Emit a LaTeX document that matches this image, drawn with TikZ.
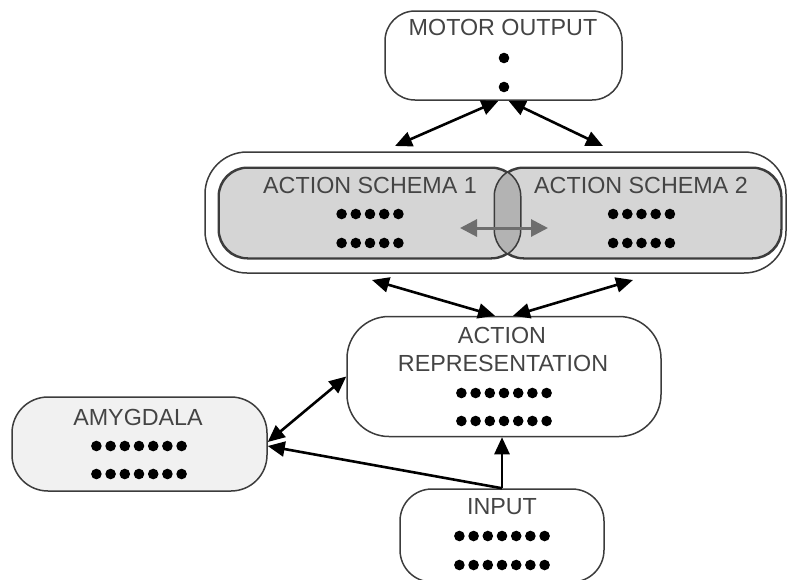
\documentclass[tikz,border=0pt]{standalone}
\usepackage{fontspec}
\setmainfont{Liberation Sans}
\usetikzlibrary{arrows.meta,positioning}
\definecolor{boxline}{HTML}{3C3C3C}
\definecolor{labelgray}{HTML}{444444}
\definecolor{schemafill}{HTML}{D5D5D5}
\definecolor{lensfill}{HTML}{B3B3B3}
\definecolor{amygfill}{HTML}{F1F1F1}
\definecolor{crossgray}{HTML}{6E6E6E}
% a row of dots: centre x, y, number of dots
\newcommand{\dotrow}[3]{%
  \foreach \k in {1,...,#3} {\fill ({#1+(\k-(#3+1)/2)*14.2},#2) circle (5.3pt);}}

\begin{document}
\begin{tikzpicture}[
    x=1pt, y=-1pt,
    box/.style={draw=boxline, line width=1.5pt, rounded corners=#1, inner sep=0pt},
    box/.default=30pt,
    title/.style={text=labelgray, font=\fontsize{23.3pt}{27pt}\selectfont, inner sep=0pt},
    link/.style={line width=2.6pt, {Triangle[length=17pt,width=15pt]}-{Triangle[length=17pt,width=15pt]}},
    feed/.style={line width=2.6pt, -{Triangle[length=17pt,width=15pt]}},
    crossarrow/.style={crossgray, line width=3pt, {Triangle[length=17pt,width=17pt]}-{Triangle[length=17pt,width=17pt]}}]
    \useasboundingbox (0,0) rectangle (787,579);
    % NODES
    % motor output
    \node[box=30pt, minimum width=237pt, minimum height=89pt] (motor) at (503.5,55.5) {};
    \node[title] (motorT) at (503,27) {MOTOR OUTPUT};
    \fill (504,58) circle (5.3pt);
    \fill (504,87) circle (5.3pt);
    % container of the two schemas
    \node[box=42pt, minimum width=581pt, minimum height=121pt] (outer) at (495.5,212.5) {};
    \node[box=29pt, fill=schemafill, minimum width=301pt, minimum height=90pt] (schemaA) at (369.5,213) {};
    \node[box=29pt, fill=schemafill, minimum width=286pt, minimum height=90pt] (schemaB) at (638,213) {};
    % overlap of the schemas
    \begin{scope}
      \clip[rounded corners=29pt] (schemaA.south west) rectangle (schemaA.north east);
      \fill[lensfill, rounded corners=29pt] (schemaB.south west) rectangle (schemaB.north east);
    \end{scope}
    \draw[boxline, line width=1.5pt, rounded corners=29pt] (schemaA.south west) rectangle (schemaA.north east);
    \draw[boxline, line width=1.5pt, rounded corners=29pt] (schemaB.south west) rectangle (schemaB.north east);
    \node[title] (schemaAT) at (370,185) {ACTION SCHEMA 1};
    \node[title] (schemaBT) at (641,185) {ACTION SCHEMA 2};
    \dotrow{370}{214}{5}
    \dotrow{370}{243}{5}
    \dotrow{641.5}{214}{5}
    \dotrow{641.5}{243}{5}
    % action representation
    \node[box=42pt, minimum width=314pt, minimum height=120pt] (rep) at (504,376.5) {};
    \node[title] (repT) at (502,335) {ACTION};
    \node[title] (repT2) at (503,363) {REPRESENTATION};
    \dotrow{504}{393}{7}
    \dotrow{504}{421}{7}
    % amygdala
    \node[box=36pt, fill=amygfill, minimum width=255pt, minimum height=94pt] (amyg) at (139.5,444) {};
    \node[title] (amygT) at (138,417) {AMYGDALA};
    \dotrow{139}{446}{7}
    \dotrow{139}{474}{7}
    % input
    \node[box=32pt, minimum width=204pt, minimum height=93pt] (input) at (502,535.5) {};
    \node[title] (inputT) at (502,507) {INPUT};
    \dotrow{502}{536}{7}
    \dotrow{502}{565}{7}

    % free arrow ends
    \coordinate (motorL) at (395,146);
    \coordinate (motorR) at (603,146);
    \coordinate (schemaL) at (372,280);
    \coordinate (schemaR) at (633,280);
    \coordinate (crossL) at (460,228);
    \coordinate (crossR) at (548,228);

    % ARROWS
    \draw[crossarrow] (crossL)--(crossR);
    \draw[link] ([xshift=-5pt]motor.south)--(motorL);
    \draw[link] ([xshift=5pt]motor.south)--(motorR);
    \draw[link] ([xshift=-9pt]rep.north)--(schemaL);
    \draw[link] ([xshift=9pt]rep.north)--(schemaR);
    \draw[link] ([yshift=2pt]amyg.east)--(rep.west);
    \draw[feed] (input.north)--(input.north |- rep.south);
    \draw[feed] (input.north)--([yshift=-2pt]amyg.east);
\end{tikzpicture}
\end{document}
